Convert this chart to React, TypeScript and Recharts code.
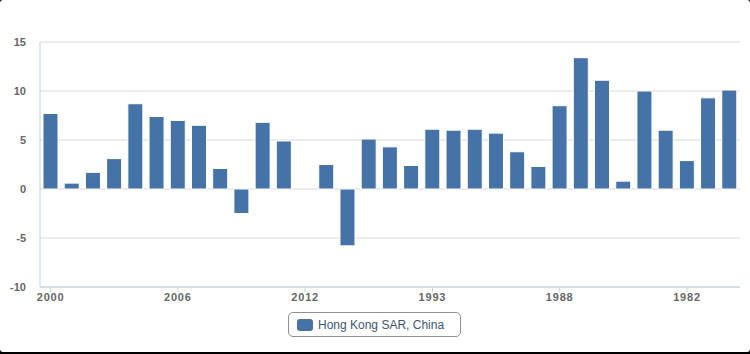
import React from 'react';
import { BarChart, Bar, XAxis, YAxis, CartesianGrid } from 'recharts';

const YEARS = [
  '2000', '2001', '2002', '2003', '2004', '2005', '2006', '2007', '2008', '2009', '2010', '2011', '2012',
  '1999', '1998', '1997', '1996', '1995', '1993', '1994', '1992', '1991', '1990', '1989',
  '1988', '1987', '1986', '1985', '1984', '1983', '1982', '1981', '1980',
];

const GROWTH: (number | null)[] = [
  7.7, 0.6, 1.7, 3.1, 8.7, 7.4, 7.0, 6.5, 2.1, -2.5, 6.8, 4.9, null,
  2.5, -5.8, 5.1, 4.3, 2.4, 6.1, 6.0, 6.1, 5.7, 3.8, 2.3,
  8.5, 13.4, 11.1, 0.8, 10.0, 6.0, 2.9, 9.3, 10.1,
];

const Y_TICKS = [-10, -5, 0, 5, 10, 15];

const SERIES_NAME = 'Hong Kong SAR, China';
const BAR_COLOR = '#4572A7';
const AXIS_COLOR = '#C0D0E0';
const FONT = '"Liberation Sans", Arial, sans-serif';

const data = YEARS.map((year, i) => ({ year, value: GROWTH[i] }));

const App: React.FC = () => {
  return (
    <div style={{ position: 'absolute', left: 0, top: 0, width: 750, height: 354, background: '#000', fontFamily: FONT }}>
      <div style={{ position: 'absolute', left: 0, top: 0, width: 750, height: 352, background: '#fff', borderRadius: 3 }}>
        <BarChart
          width={750}
          height={354}
          data={data}
          margin={{ top: 42, right: 10, bottom: 47, left: 0 }}
        >
          <CartesianGrid vertical={false} stroke="#D8D8D8" />
          <XAxis
            dataKey="year"
            interval={5}
            height={20}
            axisLine={{ stroke: AXIS_COLOR }}
            tickLine={{ stroke: AXIS_COLOR }}
            tickSize={5}
            tick={{ fill: '#666', fontSize: 11, fontWeight: 'bold', fontFamily: FONT, letterSpacing: 0.8 }}
            tickMargin={1}
          />
          <YAxis
            domain={[-10, 15]}
            ticks={Y_TICKS}
            width={40}
            axisLine={{ stroke: AXIS_COLOR }}
            tickLine={false}
            tickMargin={8}
            tick={{ fill: '#666', fontSize: 11, fontWeight: 'bold', fontFamily: FONT }}
          />
          <Bar dataKey="value" name={SERIES_NAME} barSize={15} fill={BAR_COLOR} stroke="#fff" strokeWidth={1} isAnimationActive={false} />
        </BarChart>
        <div
          style={{
            position: 'absolute', left: 288, top: 312, width: 171, height: 23,
            border: '1px solid #909090', borderRadius: 5, background: '#fff',
            display: 'flex', alignItems: 'center', boxSizing: 'content-box',
          }}
        >
          <div style={{ width: 16, height: 12, marginLeft: 8, marginRight: 5, borderRadius: 3, background: BAR_COLOR }} />
          <span style={{ fontSize: 12, color: '#3E576F' }}>{SERIES_NAME}</span>
        </div>
      </div>
    </div>
  );
};

export default App;
